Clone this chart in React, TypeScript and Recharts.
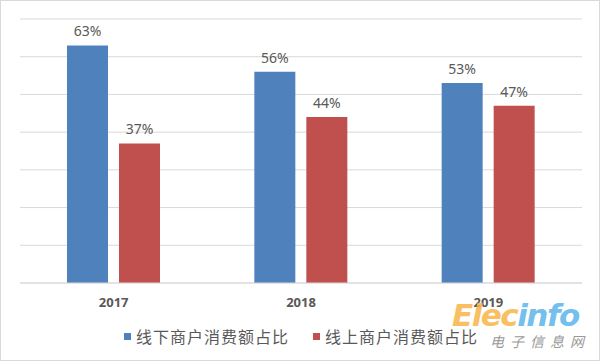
import React from 'react';
import {
	BarChart,
	Bar,
	XAxis,
	YAxis,
	CartesianGrid,
	Legend,
	LabelList
} from 'recharts';

const years = ['2017', '2018', '2019'];
const offlineShare = [63, 56, 53];
const onlineShare = [37, 44, 47];
const yTicks = [0, 10, 20, 30, 40, 50, 60, 70];

const seriesNames = ['线下商户消费额占比', '线上商户消费额占比'];
const colors = ['#4F81BD', '#C0504D'];

const data = years.map((year, i) => ({
	year,
	offline: offlineShare[i],
	online: onlineShare[i]
}));

const labelStyle = {
	fill: '#595959',
	fontSize: 14,
	fontFamily: '"Noto Sans", sans-serif'
};

const CustomLegend = () => (
	<div
		style={{
			height: 40,
			display: 'flex',
			alignItems: 'center',
			justifyContent: 'center',
			gap: 24,
			fontFamily: '"Noto Sans CJK SC", serif',
			fontSize: 16,
			letterSpacing: 1,
			color: '#595959'
		}}
	>
		{seriesNames.map((name, i) => (
			<span key={name} style={{ display: 'flex', alignItems: 'center' }}>
				<span
					style={{
						width: 7,
						height: 7,
						background: colors[i],
						marginRight: 5,
						display: 'inline-block'
					}}
				/>
				{name}
			</span>
		))}
	</div>
);

const App = () => {
	return (
		<div
			style={{
				position: 'absolute',
				left: 0,
				top: 0,
				width: 600,
				height: 361,
				background: '#fff'
			}}
		>
			<div
				style={{
					position: 'absolute',
					left: 0,
					top: 0,
					width: 598,
					height: 359,
					border: '1px solid #d9d9d9'
				}}
			/>
			<BarChart
				width={600}
				height={361}
				data={data}
				margin={{ top: 19, right: 18, left: 20, bottom: 5 }}
				barGap={11}
				barSize={41}
			>
				<CartesianGrid vertical={false} stroke="#d9d9d9" />
				<XAxis
					dataKey="year"
					height={33}
					tickLine={false}
					tickSize={0}
					tickMargin={15}
					axisLine={{ stroke: '#d9d9d9' }}
					tick={{
						fill: '#595959',
						fontSize: 13,
						fontWeight: 'bold',
						fontFamily: '"Noto Sans", sans-serif'
					}}
				/>
				<YAxis hide domain={[0, 70]} ticks={yTicks} />
				<Legend verticalAlign="bottom" content={<CustomLegend />} />
				<Bar dataKey="offline" fill={colors[0]} isAnimationActive={false}>
					<LabelList
						dataKey="offline"
						position="top"
						offset={9}
						formatter={(v: any) => `${v}%`}
						style={labelStyle}
					/>
				</Bar>
				<Bar dataKey="online" fill={colors[1]} isAnimationActive={false}>
					<LabelList
						dataKey="online"
						position="top"
						offset={9}
						formatter={(v: any) => `${v}%`}
						style={labelStyle}
					/>
				</Bar>
			</BarChart>
			<div
				style={{
					position: 'absolute',
					left: 452,
					top: 298,
					fontFamily: '"DejaVu Sans", sans-serif',
					fontStyle: 'italic',
					fontWeight: 'bold',
					fontSize: 31,
					lineHeight: '34px',
					opacity: 0.85,
					letterSpacing: -1.5
				}}
			>
				<span style={{ color: '#F7B548' }}>Elec</span>
				<span style={{ color: '#5BB4EA' }}>info</span>
			</div>
			<div
				style={{
					position: 'absolute',
					left: 490,
					top: 331,
					fontFamily: '"Noto Sans CJK SC", sans-serif',
					fontStyle: 'italic',
					fontSize: 14,
					color: '#888',
					letterSpacing: 6,
					opacity: 0.85
				}}
			>
				电子信息网
			</div>
		</div>
	);
};

export default App;
